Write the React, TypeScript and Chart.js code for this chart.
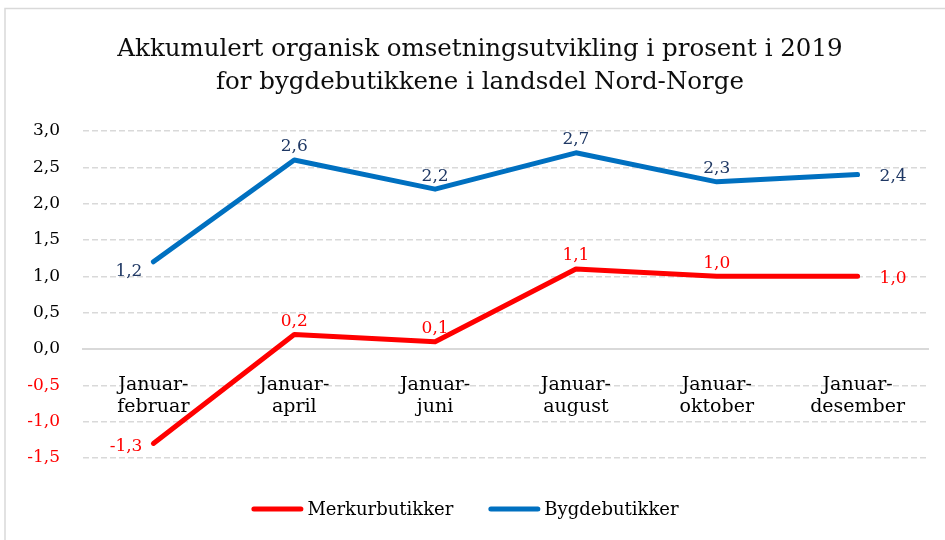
import React, { useEffect, useRef } from 'react';
import { Chart, registerables } from 'chart.js';

Chart.register(...registerables);

const FONT = '"DejaVu Serif", "Liberation Serif", serif';

const categories: string[][] = [
  ['Januar-', 'februar'],
  ['Januar-', 'april'],
  ['Januar-', 'juni'],
  ['Januar-', 'august'],
  ['Januar-', 'oktober'],
  ['Januar-', 'desember'],
];
const merkurbutikker: number[] = [-1.3, 0.2, 0.1, 1.1, 1.0, 1.0];
const bygdebutikker: number[] = [1.2, 2.6, 2.2, 2.7, 2.3, 2.4];
const seriesNames: string[] = ['Merkurbutikker', 'Bygdebutikker'];
const titleLines: string[] = [
  'Akkumulert organisk omsetningsutvikling i prosent i 2019',
  'for bygdebutikkene i landsdel Nord-Norge',
];
const yMin = -1.5;
const yMax = 3.0;
const yStep = 0.5;

const fmt = (v: number) => Number(v).toFixed(1).replace('.', ',');

const framePlugin = {
  id: 'frame',
  beforeDraw(chart: any) {
    const ctx = chart.ctx;
    ctx.save();
    ctx.fillStyle = '#ffffff';
    ctx.fillRect(0, 0, chart.width, chart.height);
    ctx.strokeStyle = '#d9d9d9';
    ctx.lineWidth = 1.5;
    ctx.strokeRect(5, 8.5, chart.width + 20, chart.height + 20);
    ctx.restore();
  },
};

const titlePlugin = {
  id: 'customTitle',
  afterDraw(chart: any) {
    const ctx = chart.ctx;
    ctx.save();
    ctx.font = `24.5px ${FONT}`;
    ctx.fillStyle = '#0d0d0d';
    ctx.textAlign = 'center';
    ctx.textBaseline = 'middle';
    titleLines.forEach((line, i) => {
      ctx.fillText(line, 480, 50 + i * 33);
    });
    ctx.restore();
  },
};

const labelPlugin = {
  id: 'pointLabels',
  afterDatasetsDraw(chart: any) {
    const ctx = chart.ctx;
    ctx.save();
    ctx.font = `17px ${FONT}`;
    ctx.textBaseline = 'middle';
    chart.data.datasets.forEach((ds: any, di: number) => {
      const meta = chart.getDatasetMeta(di);
      const n = meta.data.length;
      meta.data.forEach((pt: any, i: number) => {
        const v = ds.data[i];
        const txt = fmt(v);
        ctx.fillStyle = ds.labelColor;
        if (i === 0) {
          ctx.textAlign = 'right';
          ctx.fillText(txt, pt.x - 11, pt.y + ds.leftDy);
        } else if (i === n - 1) {
          ctx.textAlign = 'left';
          ctx.fillText(txt, pt.x + 22, pt.y + 2);
        } else {
          ctx.textAlign = 'center';
          ctx.fillText(txt, pt.x, pt.y - 13);
        }
      });
    });
    ctx.restore();
  },
};

const legendPlugin = {
  id: 'customLegend',
  afterDraw(chart: any) {
    const ctx = chart.ctx;
    ctx.save();
    ctx.font = `18px ${FONT}`;
    ctx.textBaseline = 'middle';
    const lineW = 52;
    const gapText = 4;
    const gapItem = 35;
    const items = chart.data.datasets.map((ds: any) => ({ label: ds.label, color: ds.borderColor }));
    const widths = items.map((it: any) => lineW + gapText + ctx.measureText(it.label).width);
    const total = widths.reduce((a: number, b: number) => a + b, 0) + gapItem * (items.length - 1);
    let x = 465 - total / 2;
    const y = 509;
    items.forEach((it: any, i: number) => {
      ctx.strokeStyle = it.color;
      ctx.lineWidth = 5;
      ctx.lineCap = 'round';
      ctx.beginPath();
      ctx.moveTo(x + 2.5, y);
      ctx.lineTo(x + lineW - 2.5, y);
      ctx.stroke();
      ctx.fillStyle = '#000000';
      ctx.textAlign = 'left';
      ctx.fillText(it.label, x + lineW + gapText, y + 1);
      x += widths[i] + gapItem;
    });
    ctx.restore();
  },
};

export default function App() {
  const ref = useRef<HTMLCanvasElement | null>(null);

  useEffect(() => {
    if (!ref.current) return;
    const chart = new Chart(ref.current, {
      type: 'line',
      data: {
        labels: categories,
        datasets: [
          {
            label: seriesNames[0],
            data: merkurbutikker,
            borderColor: '#FF0000',
            backgroundColor: '#FF0000',
            borderWidth: 5,
            pointRadius: 0,
            pointHoverRadius: 0,
            tension: 0,
            borderCapStyle: 'round',
            borderJoinStyle: 'round',
            labelColor: '#FF0000',
            leftDy: 3,
          } as any,
          {
            label: seriesNames[1],
            data: bygdebutikker,
            borderColor: '#0070C0',
            backgroundColor: '#0070C0',
            borderWidth: 5,
            pointRadius: 0,
            pointHoverRadius: 0,
            tension: 0,
            borderCapStyle: 'round',
            borderJoinStyle: 'round',
            labelColor: '#1F3864',
            leftDy: 10,
          } as any,
        ],
      },
      options: {
        responsive: false,
        animation: false,
        layout: { padding: { left: 8, right: 17, top: 131, bottom: 82 } },
        plugins: {
          legend: { display: false },
          tooltip: { enabled: false },
          title: { display: false },
        },
        scales: {
          x: {
            type: 'category',
            offset: true,
            position: { y: 0 } as any,
            grid: { display: true, drawOnChartArea: false, drawTicks: false },
            border: { display: true, color: '#d9d9d9', width: 2 },
            ticks: {
              color: '#000000',
              padding: 25,
              maxRotation: 0,
              autoSkip: false,
              font: { family: FONT, size: 19, lineHeight: 1.16 },
            },
          },
          y: {
            min: yMin,
            max: yMax,
            afterFit(scale: any) {
              scale.width = 75;
            },
            grid: { color: '#d9d9d9', lineWidth: 1.5, drawTicks: false },
            border: { display: false, dash: [6, 3] },
            ticks: {
              stepSize: yStep,
              padding: 23,
              font: { family: FONT, size: 17 },
              color: (c: any) => (c.tick && c.tick.value < 0 ? '#FF0000' : '#000000'),
              callback: (v: any) => fmt(Number(v)),
            },
          },
        },
      },
      plugins: [framePlugin, labelPlugin, titlePlugin, legendPlugin],
    });
    return () => chart.destroy();
  }, []);

  return (
    <div style={{ position: 'fixed', left: 0, top: 0, width: 945, height: 540, background: '#fff' }}>
      <canvas ref={ref} width={945} height={540} style={{ display: 'block' }} />
    </div>
  );
}
